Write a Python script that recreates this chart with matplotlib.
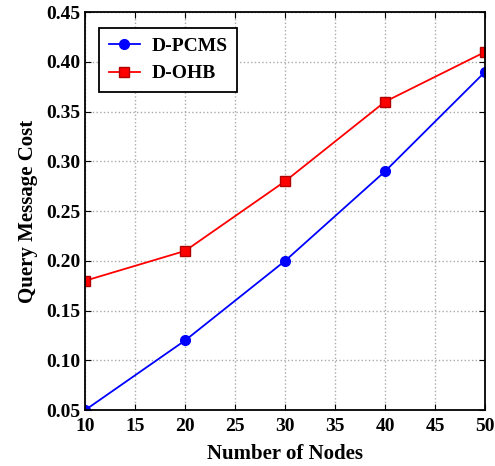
import numpy as np
import matplotlib
matplotlib.use('Agg')
import matplotlib.pyplot as plt

## data
nodes = [10, 20, 30, 40, 50]
d_pcms = [0.05, 0.12, 0.20, 0.29, 0.39]
d_ohb = [0.18, 0.21, 0.28, 0.36, 0.41]

plt.rcParams['font.family'] = 'Liberation Serif'
plt.rcParams['font.weight'] = 'bold'

fig = plt.figure(figsize=(4.95, 4.66), dpi=100)
ax = fig.add_axes([0.172, 0.12, 0.808, 0.854])

ax.plot(nodes, d_pcms, color='blue', marker='o', ms=7, lw=1.3, label='D-PCMS')
ax.plot(nodes, d_ohb, color='red', marker='s', ms=6.5, lw=1.3, mec='#b00000', label='D-OHB')

ax.set_xlim(10, 50)
ax.set_ylim(0.05, 0.45)
ax.set_xticks(np.arange(10, 51, 5))
ax.set_yticks(np.arange(0.05, 0.451, 0.05))
ax.set_yticklabels(['%.2f' % v for v in np.arange(0.05, 0.451, 0.05)])
ax.tick_params(direction='in', labelsize=14, length=4, top=True, right=True)
ax.tick_params(axis='x', pad=6)
for lab in ax.get_xticklabels() + ax.get_yticklabels():
    lab.set_fontweight('bold')
ax.grid(True, ls=':', color='#aaaaaa', lw=1)
for s in ax.spines.values():
    s.set_linewidth(1.3)

ax.set_xlabel('Number of Nodes', fontsize=15, fontweight='bold', labelpad=6)
ax.set_ylabel('Query Message Cost', fontsize=15, fontweight='bold', labelpad=6)

leg = ax.legend(loc='upper left', fontsize=14, fancybox=False, edgecolor='black',
                framealpha=1, handlelength=1.6, handletextpad=0.6, borderpad=0.5,
                bbox_to_anchor=(0.01, 0.985))
leg.get_frame().set_linewidth(1.3)

fig.savefig('out.png', dpi=100)
